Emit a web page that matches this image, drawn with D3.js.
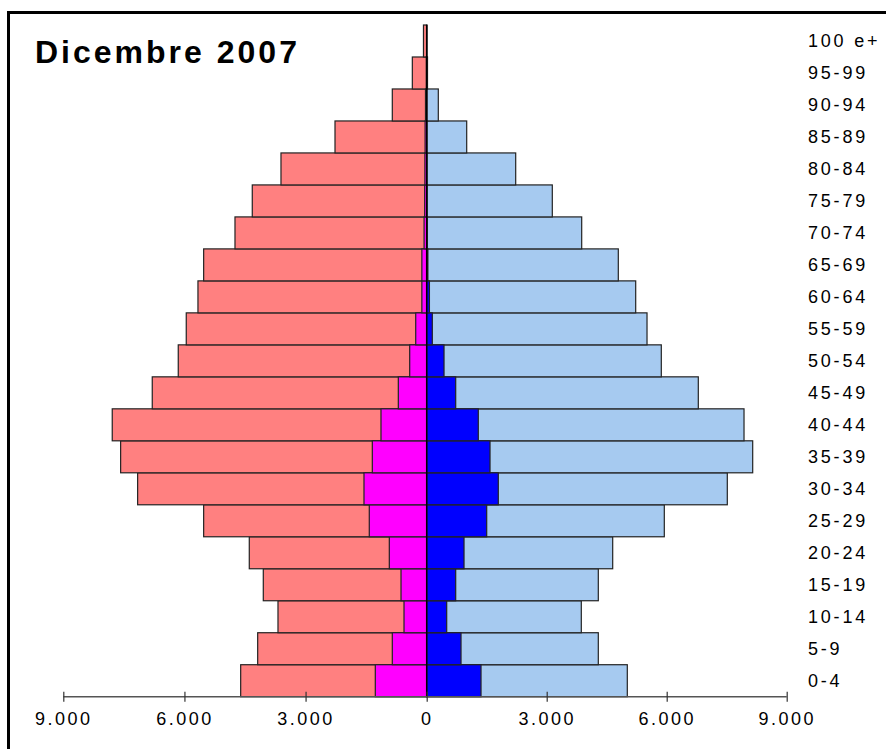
<!DOCTYPE html>
<html>
<head>
<meta charset="utf-8">
<script src="https://cdnjs.cloudflare.com/ajax/libs/d3/7.8.4/d3.min.js"></script>
<style>
  html, body { margin: 0; padding: 0; background: #fff; }
  svg { display: block; }
</style>
</head>
<body>
<div id="chart"></div>
<script>
// age classes, bottom to top
const ageGroups = ['0-4', '5-9', '10-14', '15-19', '20-24', '25-29', '30-34', '35-39', '40-44', '45-49',
  '50-54', '55-59', '60-64', '65-69', '70-74', '75-79', '80-84', '85-89', '90-94', '95-99', '100 e+'];

// left side: women (total and foreign), right side: men
const femaleTotal   = [4607, 4186, 3683, 4047, 4394, 5524, 7159, 7580, 7788, 6797, 6153, 5955, 5665, 5524, 4748, 4320, 3609, 2271, 852, 356, 80];
const femaleForeign = [1273, 852, 562, 636, 926, 1422, 1553, 1347, 1132, 703, 421, 272, 120, 120, 65, 50, 45, 40, 30, 10, 0];
const maleTotal     = [5015, 4290, 3865, 4290, 4650, 5940, 7515, 8150, 7933, 6790, 5865, 5508, 5225, 4790, 3875, 3140, 2225, 1000, 290, 20, 5];
const maleForeign   = [1358, 858, 500, 725, 933, 1500, 1790, 1583, 1290, 725, 433, 140, 68, 30, 15, 10, 8, 5, 2, 0, 0];

const tickValues = [-9000, -6000, -3000, 0, 3000, 6000, 9000];
const title = 'Dicembre 2007';

const W = 886, H = 749;

const svg = d3.select('#chart').append('svg')
  .attr('width', W)
  .attr('height', H);

// frame (only top and left edges fall inside the picture)
svg.append('path')
  .attr('d', `M8.5,${H + 5}V12.5H${W + 5}`)
  .attr('fill', 'none')
  .attr('stroke', '#000')
  .attr('stroke-width', 3);

const x = d3.scaleLinear().domain([-9000, 0, 9000]).range([63.3, 426.7, 786.7]);
const y = d3.scaleBand().domain(ageGroups).range([696.7, 25]).padding(0);

const rows = ageGroups.map((age, i) => ({
  age,
  fTot: femaleTotal[i], fFor: femaleForeign[i],
  mTot: maleTotal[i], mFor: maleForeign[i]
}));

const bars = svg.append('g');

const layers = [
  { key: 'fTot', sign: -1, fill: '#FF8080' },
  { key: 'fFor', sign: -1, fill: '#FF00FF' },
  { key: 'mTot', sign: 1, fill: '#A6CAF0' },
  { key: 'mFor', sign: 1, fill: '#0000FF' }
];

layers.forEach(l => {
  bars.selectAll(null)
    .data(rows.filter(d => d[l.key] > 0))
    .join('rect')
    .attr('x', d => Math.min(x(0), x(l.sign * d[l.key])))
    .attr('width', d => Math.abs(x(l.sign * d[l.key]) - x(0)))
    .attr('y', d => y(d.age))
    .attr('height', y.bandwidth())
    .attr('fill', l.fill)
    .attr('stroke', '#222')
    .attr('stroke-width', 1.2);
});

// centre line
svg.append('line')
  .attr('x1', x(0)).attr('x2', x(0))
  .attr('y1', y.range()[1]).attr('y2', y.range()[0])
  .attr('stroke', '#000')
  .attr('stroke-width', 1.5);

// bottom axis
const axis = svg.append('g')
  .attr('transform', `translate(0, ${y.range()[0]})`)
  .call(d3.axisBottom(x)
    .tickValues(tickValues)
    .tickSize(5)
    .tickFormat(d => d3.format(',')(Math.abs(d)).replace(/,/g, '.')));

axis.select('.domain')
  .attr('d', `M${x(-9000)},0H${x(9000)}`)
  .attr('stroke', '#555')
  .attr('stroke-width', 1.5);

axis.selectAll('.tick line')
  .attr('y1', -5)
  .attr('y2', 5)
  .attr('stroke', '#333')
  .attr('stroke-width', 1.2);

axis.selectAll('.tick text')
  .attr('y', 16)
  .attr('dy', '0.71em')
  .attr('font-family', 'Liberation Sans, Arial, sans-serif')
  .attr('font-size', 18)
  .attr('letter-spacing', 2.5)
  .attr('fill', '#000');

// age labels on the right
svg.append('g').selectAll('text')
  .data(ageGroups)
  .join('text')
  .attr('x', 808)
  .attr('y', d => y(d) + y.bandwidth() / 2)
  .attr('dy', '0.35em')
  .attr('font-family', 'Liberation Sans, Arial, sans-serif')
  .attr('font-size', 18)
  .attr('letter-spacing', 2.8)
  .attr('fill', '#000')
  .text(d => d);

// title
svg.append('text')
  .attr('x', 35)
  .attr('y', 63)
  .attr('font-family', 'Liberation Sans, Arial, sans-serif')
  .attr('font-weight', 'bold')
  .attr('font-size', 32)
  .attr('letter-spacing', 3)
  .attr('fill', '#000')
  .text(title);
</script>
</body>
</html>
